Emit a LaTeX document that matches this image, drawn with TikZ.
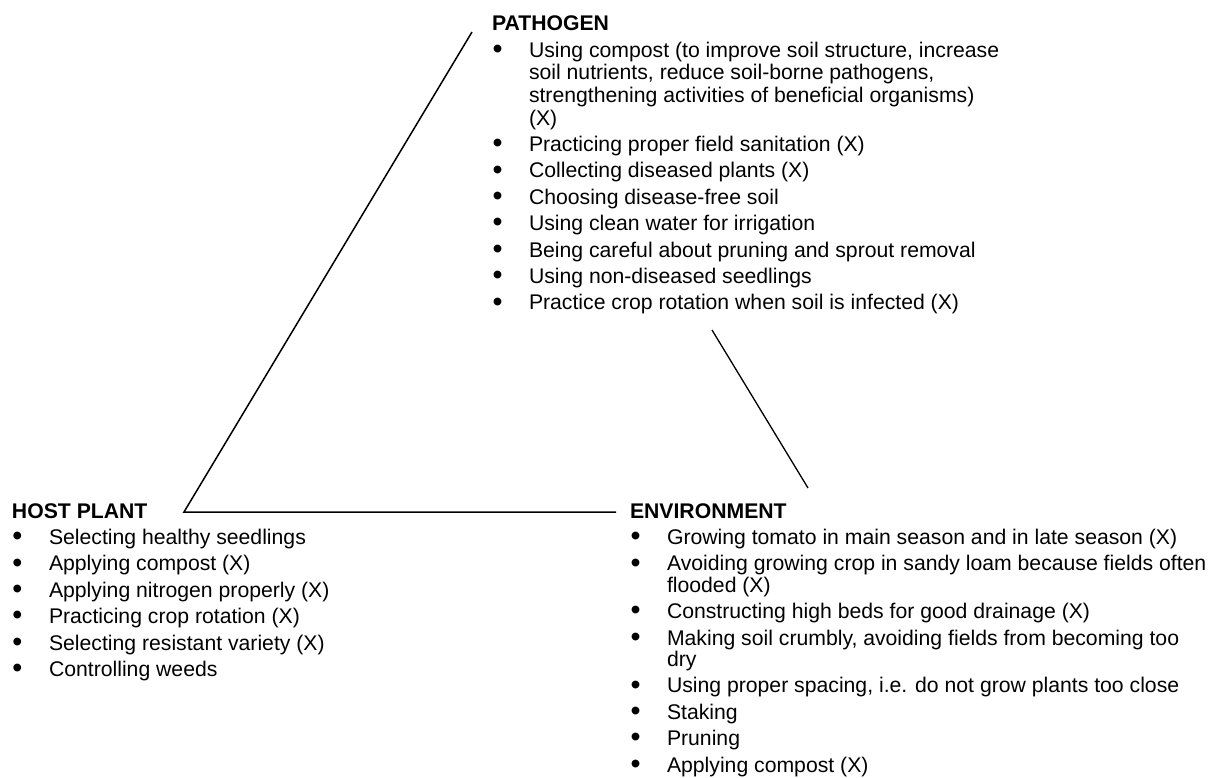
\documentclass[tikz,border=0pt]{standalone}
\usepackage{fontspec}
\setmainfont{Liberation Sans}
\newcommand{\bul}{\hspace*{0.5pt}\makebox[36.5pt][l]{\raisebox{-1.2pt}{\scalebox{1.35}{\textbullet}}}}
\newcommand{\ind}{\hspace*{37pt}}
\newcommand{\wrapgap}{-3.8pt}
\newcommand{\envgap}{-5pt}
\tikzset{
  block/.style={anchor=base west, inner sep=0pt, outer sep=0pt,
    font=\fontsize{21.2}{26.4}\selectfont},
  edge/.style={draw=black, line width=1.5pt, line join=miter}
}
\begin{document}
\begin{tikzpicture}[x=1pt,y=-1pt]
\useasboundingbox[fill=white] (0,0) rectangle (1218,778);

\node[block] (pathogen) at (492,31) {\begin{tabular}[t]{@{}l@{}}
\textbf{PATHOGEN}\\
\bul Using compost (to improve soil structure, increase\\[\wrapgap]
\ind soil nutrients, reduce soil-borne pathogens,\\[\wrapgap]
\ind strengthening activities of beneficial organisms)\\[\wrapgap]
\ind (X)\\
\bul Practicing proper field sanitation (X)\\
\bul Collecting diseased plants (X)\\
\bul Choosing disease-free soil\\
\bul Using clean water for irrigation\\
\bul Being careful about pruning and sprout removal\\
\bul Using non-diseased seedlings\\
\bul Practice crop rotation when soil is infected (X)
\end{tabular}};

\node[block] (host) at (12,518) {\begin{tabular}[t]{@{}l@{}}
\textbf{HOST PLANT}\\
\bul Selecting healthy seedlings\\
\bul Applying compost (X)\\
\bul Applying nitrogen properly (X)\\
\bul Practicing crop rotation (X)\\
\bul Selecting resistant variety (X)\\
\bul Controlling weeds
\end{tabular}};

\node[block] (env) at (630,518) {\begin{tabular}[t]{@{}l@{}}
\textbf{ENVIRONMENT}\\
\bul Growing tomato in main season and in late season (X)\\
\bul Avoiding growing crop in sandy loam because fields often\\[\envgap]
\ind flooded (X)\\
\bul Constructing high beds for good drainage (X)\\
\bul Making soil crumbly, avoiding fields from becoming too\\[\envgap]
\ind dry\\
\bul Using proper spacing, i.e. do not grow plants too close\\
\bul Staking\\
\bul Pruning\\
\bul Applying compost (X)
\end{tabular}};

\coordinate (ptop) at (472,32);
\coordinate (hv) at (184,512);
\coordinate (hend) at (616,512);
\coordinate (etop) at (712,330);
\coordinate (ebot) at (808,488);

\draw[edge] (ptop) -- (hv) -- (hend);
\draw[edge, line width=1.3pt] (etop) -- (ebot);
\end{tikzpicture}
\end{document}
